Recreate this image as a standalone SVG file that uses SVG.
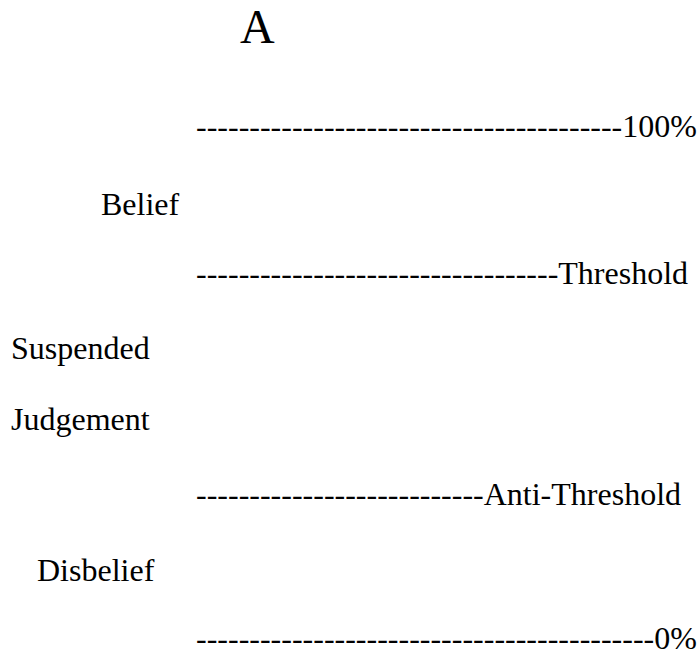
<svg xmlns="http://www.w3.org/2000/svg" width="697" height="656" viewBox="0 0 697 656">
<style>
text{font-family:"Liberation Serif","Times New Roman",serif;fill:#000;font-size:32px}
.title{font-size:48px}
</style>
<rect width="697" height="656" fill="#fff"/>
<g id="title"><text class="title" x="240" y="43">A</text></g>
<g id="line-100"><text x="196" y="137">----------------------------------------100%</text></g>
<g id="belief"><text x="101" y="215">Belief</text></g>
<g id="line-threshold"><text x="196" y="284">----------------------------------Threshold</text></g>
<g id="suspended"><text x="11" y="359">Suspended</text><text x="11" y="430">Judgement</text></g>
<g id="line-anti"><text x="196" y="505">---------------------------Anti-Threshold</text></g>
<g id="disbelief"><text x="37" y="581">Disbelief</text></g>
<g id="line-0"><text x="196" y="649">-------------------------------------------0%</text></g>
<g id="connectors"></g>
</svg>
